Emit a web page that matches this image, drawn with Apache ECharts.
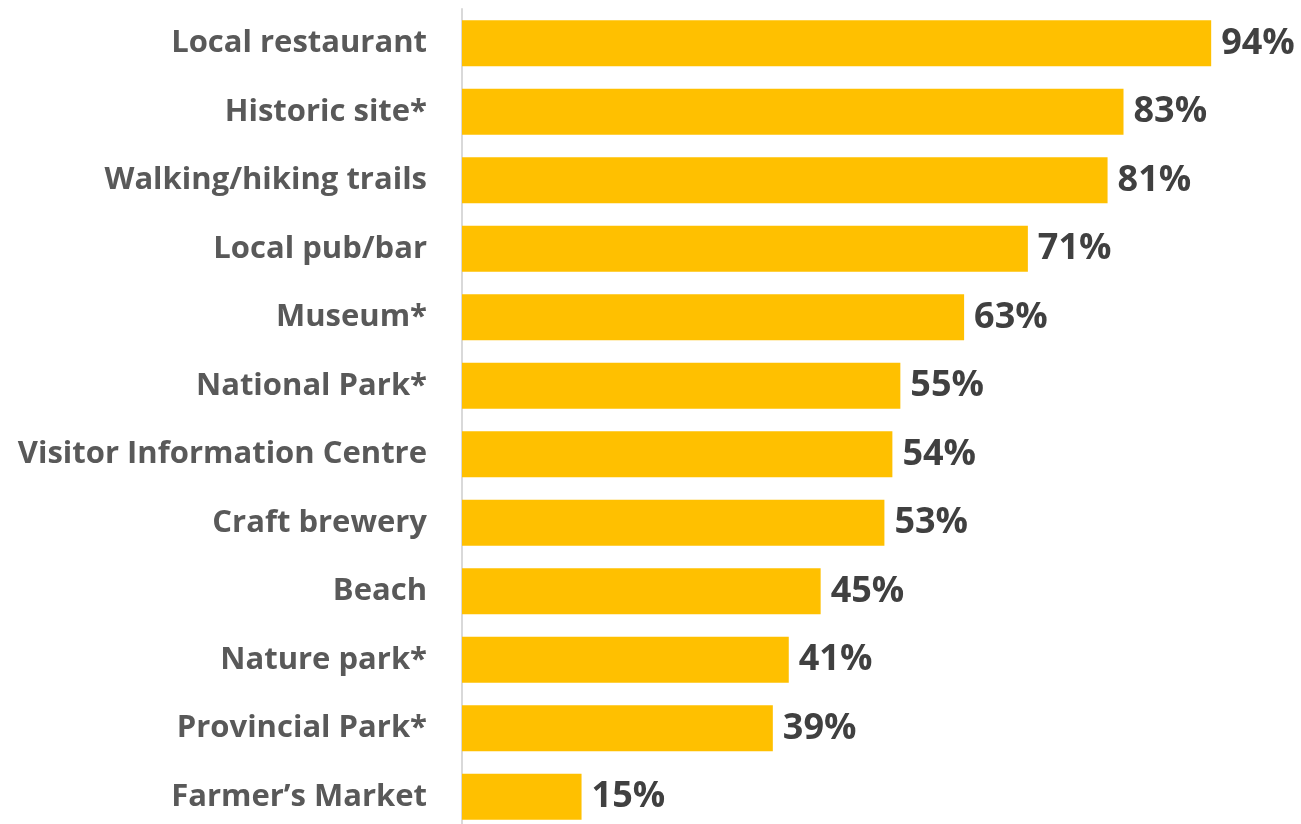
<!DOCTYPE html>
<html>
<head>
<meta charset="utf-8">
<script src="https://cdn.jsdelivr.net/npm/echarts@6/dist/echarts.min.js"></script>
<style>
  html, body { margin: 0; padding: 0; background: #ffffff; overflow: hidden; }
  #chart { width: 1301px; height: 840px; }
</style>
</head>
<body>
<div id="chart"></div>
<script>
// Attractions visited, share of respondents (%)
const categories = [
  'Local restaurant', 'Historic site*', 'Walking/hiking trails', 'Local pub/bar',
  'Museum*', 'National Park*', 'Visitor Information Centre', 'Craft brewery',
  'Beach', 'Nature park*', 'Provincial Park*', 'Farmer\u2019s Market'
];
const values = [94, 83, 81, 71, 63, 55, 54, 53, 45, 41, 39, 15];

const chart = echarts.init(document.getElementById('chart'), null, { renderer: 'canvas' });
chart.setOption({
  animation: false,
  grid: { left: 462, right: 42, top: 9, bottom: 9, containLabel: false },
  xAxis: {
    type: 'value', min: 0, max: 100, show: false
  },
  yAxis: {
    type: 'category', data: categories, inverse: true,
    axisLine: { show: true, lineStyle: { color: '#D9D9D9', width: 2 } },
    axisTick: { show: false },
    axisLabel: {
      margin: 35, color: '#595959', fontFamily: 'Open Sans', fontWeight: 'bold', fontSize: 31
    }
  },
  series: [{
    type: 'bar', data: values, barCategoryGap: '33%',
    itemStyle: { color: '#FFC000' },
    label: {
      show: true, position: 'right', distance: 10, formatter: '{c}%',
      color: '#404040', fontFamily: 'Open Sans', fontWeight: 'bold', fontSize: 36
    }
  }]
});
</script>
</body>
</html>
